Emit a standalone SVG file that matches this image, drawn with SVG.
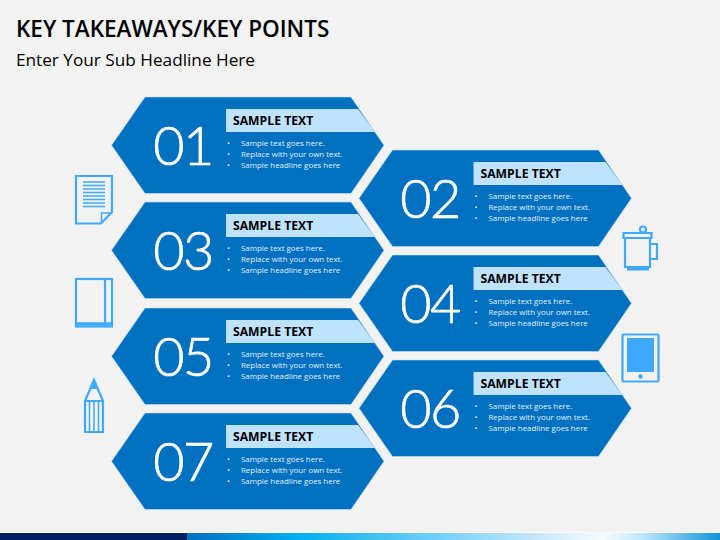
<svg xmlns="http://www.w3.org/2000/svg" width="720" height="540" viewBox="0 0 720 540">
<style>
text{font-family:"Open Sans","Noto Sans",sans-serif}
.hex{fill:#0070c0;stroke:#bfe3ff;stroke-width:.6}
.tab{fill:#bfe3ff}
.num{font-family:Lato,"Open Sans",sans-serif;font-weight:300;font-size:54px;letter-spacing:-1.500px;fill:#fff;stroke:#fff;stroke-width:.7px;text-anchor:middle}
.head{font-size:12.200px;font-weight:700;fill:#000}
.b{font-size:7.900px;fill:#e2f1ff}
.ic{fill:none;stroke:#3fa9ff;stroke-width:2.200}
.il{fill:none;stroke:#3fa9ff;stroke-width:1.500}
.if{fill:#3fa9ff}
</style>
<defs>
<linearGradient id="bar" x1="0" x2="1" y1="0" y2="0">
<stop offset="0" stop-color="#0070c0"/><stop offset=".21" stop-color="#00b0f0"/><stop offset=".64" stop-color="#c0e4fa"/><stop offset=".78" stop-color="#f8fcff"/><stop offset=".86" stop-color="#b8e4fa"/><stop offset="1" stop-color="#0f94d8"/>
</linearGradient>
<g id="card">
<path class="hex" d="M111.500 145.300L145 97H351L384 145.300L351 193.500H145Z"/>
<path class="tab" d="M226 109H358L375 132H226Z"/>
<text class="head" x="233" y="125">SAMPLE TEXT</text>
<text class="b" x="227" y="146">•</text><text class="b" x="241" y="146">Sample text goes here.</text>
<text class="b" x="227" y="157">•</text><text class="b" x="241" y="157">Replace with your own text.</text>
<text class="b" x="227" y="168">•</text><text class="b" x="241" y="168">Sample headline goes here</text>
</g>
</defs>
<rect width="720" height="540" fill="#f2f2f2"/>
<text x="16" y="37" font-size="22.500" font-weight="600" fill="#000">KEY TAKEAWAYS/KEY POINTS</text>
<text x="16" y="66" font-size="17.200" fill="#000">Enter Your Sub Headline Here</text>

<g id="node-01"><use href="#card"/><text class="num" x="183" y="165">01</text></g>
<g id="node-02"><use href="#card" transform="translate(247.500 53)"/><text class="num" x="430" y="218">02</text></g>
<g id="node-03"><use href="#card" transform="translate(0 105)"/><text class="num" x="183" y="270">03</text></g>
<g id="node-04"><use href="#card" transform="translate(247.500 158)"/><text class="num" x="430" y="323">04</text></g>
<g id="node-05"><use href="#card" transform="translate(0 211)"/><text class="num" x="183" y="376">05</text></g>
<g id="node-06"><use href="#card" transform="translate(247.500 263)"/><text class="num" x="430" y="428">06</text></g>
<g id="node-07"><use href="#card" transform="translate(0 316)"/><text class="num" x="183" y="481">07</text></g>

<g id="icon-document">
<path class="ic" d="M76 176H112V212L101 223.500H76Z"/>
<path class="il" d="M101.500 223V213H112"/>
<path class="il" d="M83 182H105M83 185.500H105M83 189H105M83 192.500H105M83 196H105M83 199.500H105M83 203H105M83 206.500H105"/>
</g>
<g id="icon-book">
<rect class="ic" x="76" y="279" width="36" height="47.500"/>
<path class="ic" d="M105 279V326"/>
<path d="M76 324H112" stroke="#3fa9ff" stroke-width="3.500" fill="none"/>
</g>
<g id="icon-pencil">
<path class="ic" d="M85 401H103V432H85ZM85 401L94 380L103 401"/>
<path class="il" d="M89.500 401V432M94 401V432M98.500 401V432"/>
<path class="if" d="M94 378L89.500 389H98.500Z"/>
</g>
<g id="icon-mug">
<path class="ic" d="M625 238V267H650V238M623.500 233H651.500V238H623.500Z"/>
<path class="ic" d="M651 244H657V259H651"/>
<circle class="ic" cx="643" cy="229.500" r="3"/>
<rect class="if" x="627" y="267" width="22" height="3.500"/>
</g>
<g id="icon-tablet">
<rect class="ic" x="622.500" y="334.500" width="36" height="47" rx="1"/>
<rect class="if" x="627" y="338" width="27" height="34"/>
<circle class="if" cx="640.500" cy="376.500" r="2.200"/>
</g>
<g id="connectors"/>
<rect y="532" width="720" height="1" fill="#fafafa"/>
<rect y="533" width="187" height="7" fill="#002060"/>
<rect x="187" y="533" width="533" height="7" fill="url(#bar)"/>
</svg>
